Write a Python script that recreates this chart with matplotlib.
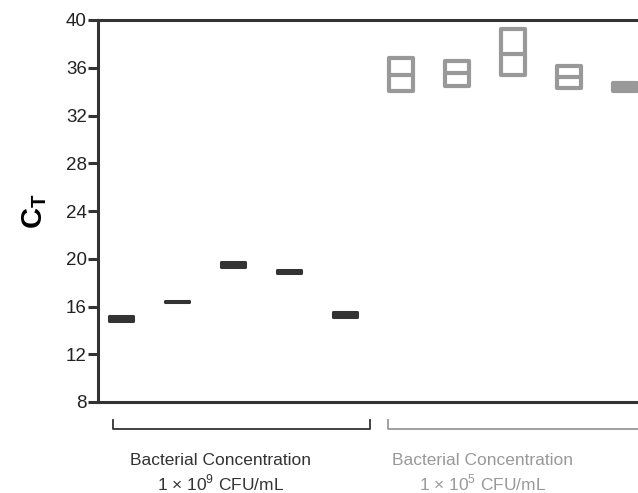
import numpy as np
import matplotlib
matplotlib.use('Agg')
import matplotlib.pyplot as plt

plt.rcParams['font.family'] = ['Liberation Sans', 'DejaVu Sans']
plt.rcParams['mathtext.fontset'] = 'custom'
plt.rcParams['mathtext.rm'] = 'Liberation Sans'
plt.rcParams['mathtext.bf'] = 'Liberation Sans:bold'

# CT values per sample: floating bar from min to max, line at mean
high_min = [14.82, 16.34, 19.35, 18.77, 15.16]
high_max = [15.24, 16.50, 19.69, 19.02, 15.50]
high_mean = [15.03, 16.42, 19.52, 18.89, 15.33]

low_min = [34.05, 34.47, 35.43, 34.30, 34.05]
low_max = [36.81, 36.56, 39.24, 36.14, 34.70]
low_mean = [35.37, 35.58, 37.17, 35.20, 34.38]

yticks = [8, 12, 16, 20, 24, 28, 32, 36, 40]

dark = '#333333'
grey = '#999999'

fig = plt.figure(figsize=(6.38, 4.93), dpi=100)
ax = fig.add_axes([98 / 638, 91 / 493, 1 - 98 / 638, 382 / 493])

x_hi = np.arange(1, 6)
x_lo = np.arange(6, 11)
w = 0.42

bars = ax.bar(x_hi, np.array(high_max) - np.array(high_min), bottom=high_min, width=w,
              facecolor=dark, edgecolor=dark, linewidth=2.2)
for b in bars:
    b.set_joinstyle('round')

# the last low-concentration bar is so short it renders solid
low_face = ['white', 'white', 'white', 'white', grey]
bars = ax.bar(x_lo, np.array(low_max) - np.array(low_min), bottom=low_min, width=w,
              color=low_face, edgecolor=grey, linewidth=3)
for b in bars:
    b.set_joinstyle('round')
ax.hlines(low_mean, x_lo - w / 2, x_lo + w / 2, color=grey, linewidth=3)

ax.set_ylim(8, 40)
ax.set_xlim(0.59, 10.23)
ax.set_yticks(yticks)
ax.set_xticks([])
ax.tick_params(axis='y', length=7, width=2.2, color=dark, labelsize=13.5, pad=1)
for lab in ax.get_yticklabels():
    lab.set_color('#222222')

for s in ['left', 'top', 'bottom']:
    ax.spines[s].set_linewidth(2.2)
    ax.spines[s].set_color(dark)
ax.spines['right'].set_visible(False)

ax.set_ylabel(r'$\mathbf{C_T}$', fontsize=21, labelpad=12)

# group brackets under the axis
tr = ax.get_xaxis_transform()
ax.plot([0.86, 0.86, 5.45, 5.45], [-0.047, -0.071, -0.071, -0.047], color=dark,
        linewidth=1.3, transform=tr, clip_on=False)
ax.plot([5.77, 5.77, 11], [-0.047, -0.071, -0.071], color=grey,
        linewidth=1.3, transform=tr, clip_on=False)

for xc, col, exp in [(2.77, dark, '9'), (7.46, grey, '5')]:
    ax.text(xc, -0.152, 'Bacterial Concentration', color=col, fontsize=12.5,
            ha='center', va='center', transform=tr)
    ax.text(xc, -0.212, '1 × 10$^{%s}$ CFU/mL' % exp, color=col, fontsize=12.5,
            ha='center', va='center', transform=tr)

fig.savefig('out.png', dpi=100)
